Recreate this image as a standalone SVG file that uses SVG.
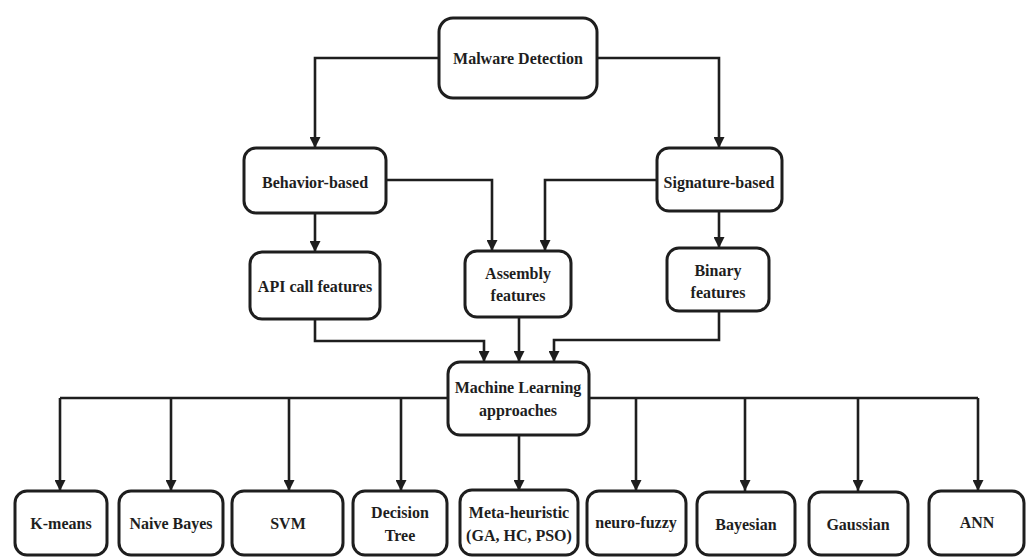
<svg xmlns="http://www.w3.org/2000/svg" width="1026" height="559" viewBox="0 0 1026 559">
<style>
.n rect{fill:#fff;stroke:#1e1e1e;stroke-width:3}
.n text{font-family:"Liberation Serif","Times New Roman",serif;font-weight:bold;font-size:16px;fill:#1e1e1e;text-anchor:middle;dominant-baseline:central}
#conn path{fill:none;stroke:#1e1e1e;stroke-width:2.6;marker-end:url(#ah)}
#conn path.p{marker-end:none}
</style>
<defs>
<marker id="ah" markerUnits="userSpaceOnUse" markerWidth="11" markerHeight="11" refX="11" refY="5.5" orient="auto">
<path d="M0,0 L11,5.5 L0,11 z" fill="#1e1e1e"/>
</marker>
</defs>
<rect width="1026" height="559" fill="#fff"/>
<g id="conn">
<path d="M439,58 H315 V148"/>
<path d="M597,58 H719 V148"/>
<path d="M386,180 H492 V251"/>
<path d="M657,180 H545 V251"/>
<path d="M315,213 V252"/>
<path d="M719,211 V248"/>
<path d="M315,319 V341 H484 V362"/>
<path d="M519,317 V362"/>
<path d="M719,311 V340 H554 V362"/>
<path class="p" d="M448,398 H60"/>
<path class="p" d="M589,398 H978"/>
<path d="M60,398 V491"/>
<path d="M171,398 V491"/>
<path d="M289,398 V491"/>
<path d="M401,398 V491"/>
<path d="M519,435 V491"/>
<path d="M636,398 V491"/>
<path d="M745,398 V491"/>
<path d="M858,398 V491"/>
<path d="M978,398 V491"/>
</g>
<g id="malware" class="n"><rect x="439" y="18" width="158" height="80" rx="14"/><text x="518" y="58">Malware Detection</text></g>
<g id="behavior" class="n"><rect x="244" y="148" width="142" height="65" rx="12"/><text x="315" y="182">Behavior-based</text></g>
<g id="signature" class="n"><rect x="657" y="148" width="125" height="63" rx="12"/><text x="719" y="182">Signature-based</text></g>
<g id="api" class="n"><rect x="250" y="252" width="130" height="67" rx="12"/><text x="315" y="286">API call features</text></g>
<g id="assembly" class="n"><rect x="465" y="251" width="106" height="66" rx="12"/><text x="518" y="273">Assembly</text><text x="518" y="295">features</text></g>
<g id="binary" class="n"><rect x="667" y="248" width="102" height="63" rx="12"/><text x="718" y="270">Binary</text><text x="718" y="292">features</text></g>
<g id="ml" class="n"><rect x="448" y="362" width="141" height="73" rx="12"/><text x="518" y="387">Machine Learning</text><text x="518" y="410">approaches</text></g>
<g id="kmeans" class="n"><rect x="15" y="491" width="92" height="64" rx="12"/><text x="61" y="523">K-means</text></g>
<g id="naive" class="n"><rect x="119" y="491" width="104" height="64" rx="12"/><text x="171" y="523">Naive Bayes</text></g>
<g id="svm" class="n"><rect x="232" y="491" width="111" height="64" rx="12"/><text x="288" y="523">SVM</text></g>
<g id="dtree" class="n"><rect x="353" y="491" width="94" height="64" rx="12"/><text x="400" y="512">Decision</text><text x="400" y="535">Tree</text></g>
<g id="meta" class="n"><rect x="460" y="490" width="118" height="65" rx="12"/><text x="519" y="512">Meta-heuristic</text><text x="519" y="535">(GA, HC, PSO)</text></g>
<g id="neuro" class="n"><rect x="587" y="491" width="99" height="64" rx="12"/><text x="636" y="522">neuro-fuzzy</text></g>
<g id="bayesian" class="n"><rect x="697" y="492" width="98" height="63" rx="12"/><text x="746" y="524">Bayesian</text></g>
<g id="gaussian" class="n"><rect x="809" y="492" width="99" height="63" rx="12"/><text x="858" y="524">Gaussian</text></g>
<g id="ann" class="n"><rect x="929" y="491" width="95" height="64" rx="12"/><text x="977" y="522">ANN</text></g>
</svg>
